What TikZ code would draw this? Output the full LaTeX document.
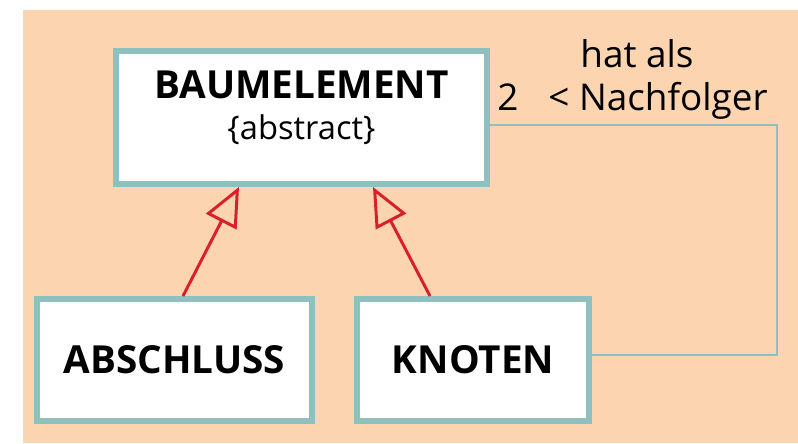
\documentclass[tikz,border=0pt]{standalone}
\usepackage{fontspec}
\setmainfont{Open Sans}
\usetikzlibrary{arrows.meta}

\definecolor{peach}{HTML}{FCD5B0}
\definecolor{boxteal}{HTML}{8FBFBF}
\definecolor{inhred}{HTML}{D9202A}

\tikzset{
    classbox/.style={draw=boxteal, line width=3.4pt, fill=white, align=center, inner sep=0pt},
    inherit/.style={draw=inhred, line width=1.7pt, -{Triangle[open, length=0.78cm, width=0.68cm, line width=1.7pt]}},
    assoc/.style={draw=boxteal, line width=1pt},
    lbl/.style={font=\fontsize{21}{24}\selectfont, inner sep=0pt, anchor=base}
}

\begin{document}
\begin{tikzpicture}[x=0.02cm, y=-0.02cm]
    \useasboundingbox (0,0) rectangle (798,443);
    \fill[peach] (23,10) rectangle (798,443);

    \node[classbox, minimum width=7.42cm, minimum height=2.66cm] (baum) at (301.5,117.5)
        {\fontsize{22}{24}\selectfont\bfseries BAUMELEMENT\\[7.5pt]\fontsize{18.6}{24}\selectfont\{abstract\}\rule[-14pt]{0pt}{1pt}};
    \node[classbox, minimum width=5.5cm, minimum height=2.44cm] (abschluss) at (174.5,360)
        {\fontsize{22}{26}\selectfont\bfseries ABSCHLUSS};
    \node[classbox, minimum width=4.64cm, minimum height=2.44cm] (knoten) at (473,360)
        {\fontsize{22}{26}\selectfont\bfseries KNOTEN};

    \draw[inherit] ([xshift=0.17cm]abschluss.north) -- ([xshift=-1.25cm]baum.south);
    \draw[inherit] ([xshift=-0.86cm]knoten.north) -- ([xshift=1.43cm]baum.south);

    \coordinate (bend) at (777,240);
    \draw[assoc] ([yshift=-0.15cm]baum.east) -| (bend) |- ([yshift=0.1cm]knoten.east);

    \node[lbl] (role) at (637,67) {hat als};
    \node[lbl, anchor=base west] (name) at (548,110) {< Nachfolger};
    \node[lbl] (mult) at (508,110) {2};
\end{tikzpicture}
\end{document}
